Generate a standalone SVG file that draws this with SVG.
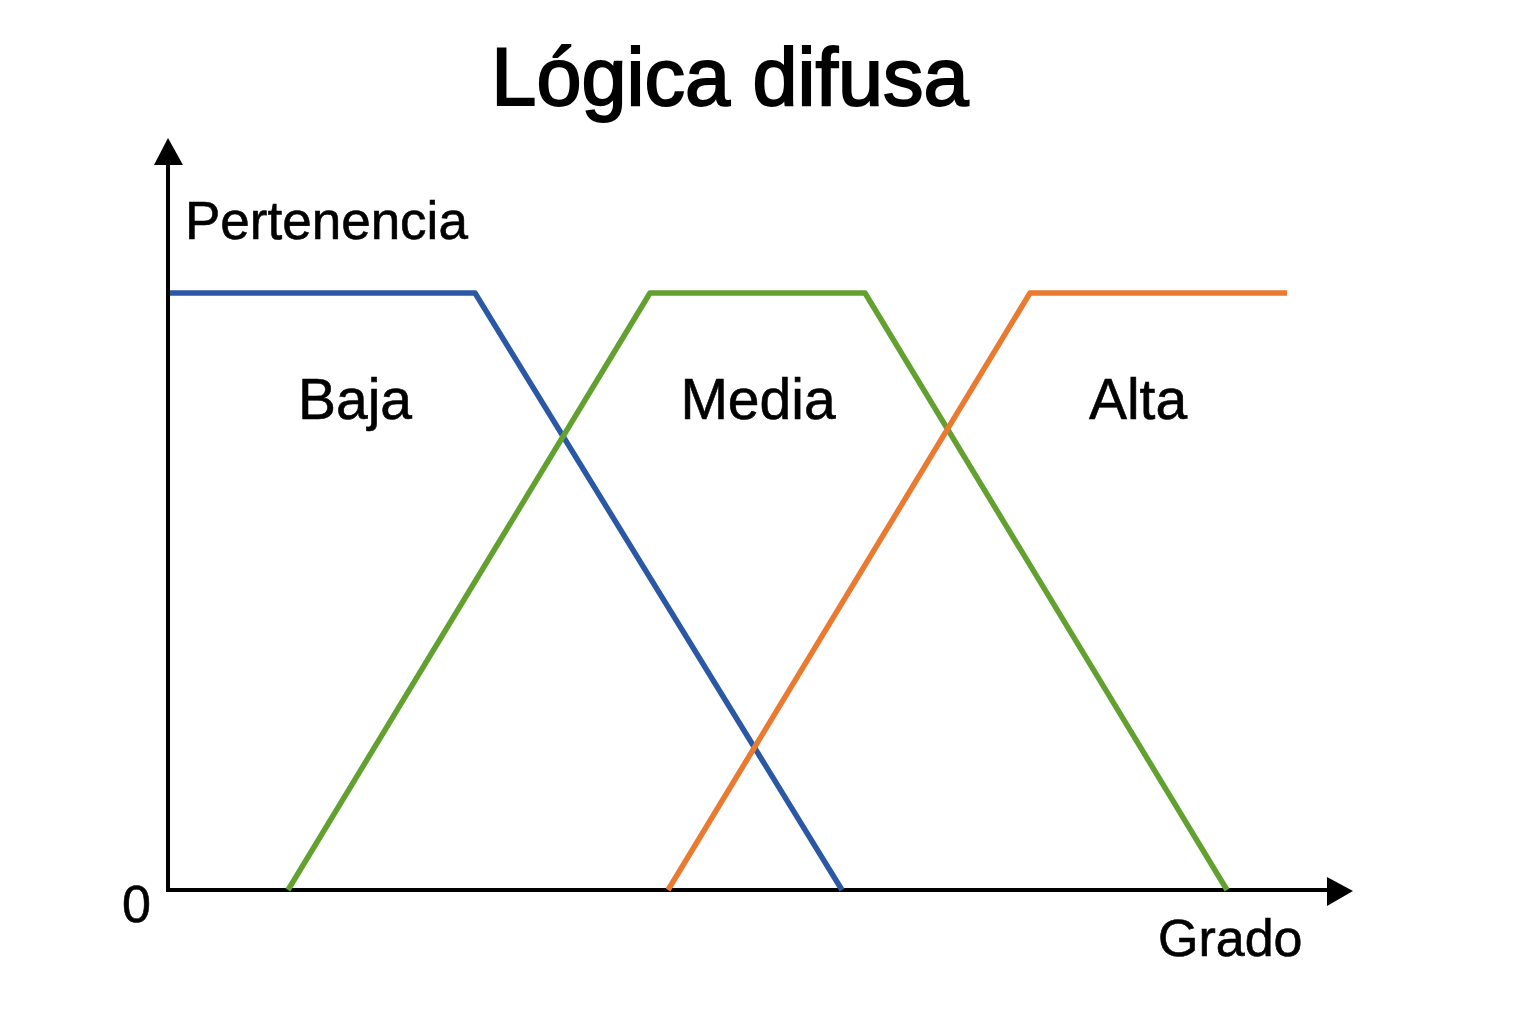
<svg xmlns="http://www.w3.org/2000/svg" width="1536" height="1024" viewBox="0 0 1536 1024">
<style>
text{font-family:"Liberation Sans",Arial,sans-serif;fill:#000;stroke:#000;stroke-width:0.6}
.axis{stroke:#000;stroke-width:4;fill:none}
.curve{fill:none;stroke-width:5.5;stroke-linejoin:round}
.lbl{font-size:57px}
</style>
<rect width="1536" height="1024" fill="#fff"/>
<text x="730" y="105" font-size="81" text-anchor="middle" style="stroke-width:2">Lógica difusa</text>
<g id="axes">
<line class="axis" x1="168" y1="892" x2="168" y2="160"/>
<polygon points="168,138 154,165 183,165" fill="#000"/>
<line class="axis" x1="166" y1="890" x2="1330" y2="890"/>
<polygon points="1353,891 1327,877 1327,906" fill="#000"/>
</g>
<g id="connectors">
<polyline id="baja-curve" class="curve" stroke="#2a58a5" points="170,293 475,293 842,890"/>
<polyline id="media-curve" class="curve" stroke="#62a12f" points="288,890 650,293 865,293 1227,890"/>
<polyline id="alta-curve" class="curve" stroke="#ea7a30" points="668,890 1030,293 1287,293"/>
</g>
<g id="labels">
<text x="185" y="239" font-size="53">Pertenencia</text>
<text x="122" y="922" font-size="52">0</text>
<text x="1158" y="956" font-size="52">Grado</text>
</g>
<g id="baja"><text class="lbl" x="355" y="419" text-anchor="middle">Baja</text></g>
<g id="media"><text class="lbl" x="758" y="419" text-anchor="middle">Media</text></g>
<g id="alta"><text class="lbl" x="1138" y="419" text-anchor="middle">Alta</text></g>
</svg>
